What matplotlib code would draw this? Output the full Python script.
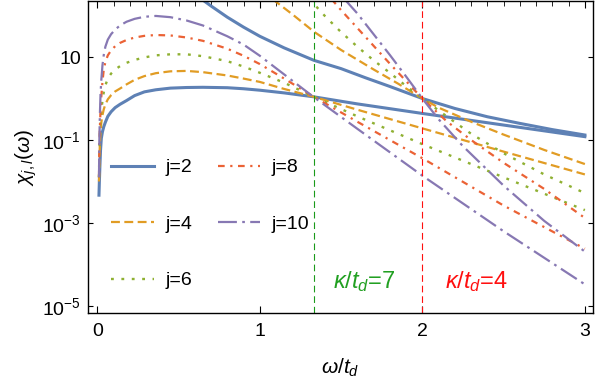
import numpy as np
import matplotlib
matplotlib.use('Agg')
import matplotlib.pyplot as plt
import matplotlib.ticker as plticker

plt.rcParams['font.family'] = 'Liberation Sans'
plt.rcParams['mathtext.fontset'] = 'custom'
plt.rcParams['mathtext.rm'] = 'Liberation Sans'
plt.rcParams['mathtext.it'] = 'Liberation Sans:italic'

c_blue   = '#5E81B5'
c_orange = '#E19C24'
c_green  = '#8FB032'
c_red    = '#EB6235'
c_purple = '#8778B3'

# --- data (log10 of chi) ---
# rising family, all crossing near omega = 4/3
omega_a = [0.0105, 0.013, 0.016, 0.02, 0.025, 0.032, 0.04, 0.05, 0.065, 0.085, 0.11, 0.14,
           0.18, 0.23, 0.29, 0.36, 0.45, 0.55, 0.65, 0.8, 0.9, 1.0, 1.15, 1.333, 1.6, 2.0,
           2.5, 3.0]
lg_a2  = [-2.33, -2.0, -1.65, -1.25, -0.96, -0.8, -0.68, -0.57, -0.43, -0.32, -0.22, -0.14,
          -0.05, 0.07, 0.16, 0.21, 0.25, 0.265, 0.27, 0.26, 0.235, 0.2, 0.135, 0.04, -0.13, -0.36,
          -0.64, -0.92]
lg_a4  = [-2.0, -1.5, -1.1, -0.8, -0.58, -0.4, -0.26, -0.14, -0.02, 0.08, 0.17, 0.24,
          0.34, 0.45, 0.54, 0.61, 0.655, 0.665, 0.635, 0.555, 0.48, 0.4, 0.23, 0.04, -0.27, -0.72,
          -1.28, -1.83]
lg_a6  = [-1.9, -1.3, -0.9, -0.55, -0.3, -0.05, 0.15, 0.32, 0.48, 0.6, 0.7, 0.78,
          0.86, 0.93, 0.99, 1.04, 1.065, 1.065, 1.02, 0.9, 0.77, 0.62, 0.38, 0.04, -0.43, -1.1,
          -1.9, -2.69]
lg_a8  = [-1.9, -1.2, -0.7, -0.3, 0.05, 0.4, 0.7, 0.88, 1.04, 1.16, 1.26, 1.34,
          1.41, 1.47, 1.51, 1.53, 1.52, 1.47, 1.39, 1.2, 1.03, 0.83, 0.48, 0.04, -0.56, -1.44,
          -2.58, -3.62]
lg_a10 = [-1.9, -1.0, -0.4, 0.1, 0.45, 0.8, 1.05, 1.25, 1.42, 1.55, 1.66, 1.76,
          1.85, 1.92, 1.97, 1.99, 1.96, 1.88, 1.76, 1.5, 1.3, 1.03, 0.58, 0.03, -0.73, -1.86,
          -3.2, -4.48]

# falling family, all crossing near omega = 2
omega_b2  = [0.64, 0.7, 0.8, 0.9, 1.0, 1.15, 1.333, 1.5, 1.65, 1.8, 2.0, 2.2, 2.4, 2.6, 2.8, 3.0]
lg_b2     = [2.4, 2.23, 1.96, 1.72, 1.5, 1.22, 0.92, 0.72, 0.5, 0.29, 0.0, -0.24, -0.44, -0.6, -0.75, -0.88]
omega_b4  = [1.08, 1.1, 1.2, 1.333, 1.5, 1.7, 1.85, 2.0, 2.1, 2.3, 2.5, 2.75, 3.0]
lg_b4     = [2.4, 2.33, 2.03, 1.61, 1.17, 0.7, 0.36, 0.0, -0.22, -0.56, -0.87, -1.24, -1.58]
omega_b6  = [1.3, 1.4, 1.5, 1.6, 1.7, 1.8, 1.9, 2.0, 2.15, 2.3, 2.5, 2.75, 3.0]
lg_b6     = [2.42, 1.99, 1.6, 1.25, 0.92, 0.62, 0.3, 0.0, -0.43, -0.85, -1.32, -1.83, -2.28]
omega_b8  = [1.44, 1.5, 1.6, 1.7, 1.8, 1.9, 2.0, 2.15, 2.3, 2.5, 2.75, 3.0]
lg_b8     = [2.4, 2.13, 1.7, 1.27, 0.84, 0.42, 0.0, -0.55, -1.0, -1.55, -2.18, -2.88]
omega_b10 = [1.52, 1.6, 1.7, 1.8, 1.9, 2.0, 2.1, 2.25, 2.5, 2.75, 3.0]
lg_b10    = [2.4, 2.05, 1.55, 1.05, 0.53, 0.0, -0.5, -1.15, -2.1, -2.95, -3.69]

j_values = [2, 4, 6, 8, 10]
lg_a = [lg_a2, lg_a4, lg_a6, lg_a8, lg_a10]
omega_b = [omega_b2, omega_b4, omega_b6, omega_b8, omega_b10]
lg_b = [lg_b2, lg_b4, lg_b6, lg_b8, lg_b10]

omega_k7 = 4/3   # kappa/t_d = 7
omega_k4 = 2.0   # kappa/t_d = 4

colors = [c_blue, c_orange, c_green, c_red, c_purple]
styles = ['-', (0, (4, 2)), (0, (1.2, 3.2)), (0, (3, 2.5, 1, 2.5)), (0, (8.5, 2.4, 1.2, 2.4))]
widths = [2.2, 1.6, 1.7, 1.6, 1.6]

fig = plt.figure(figsize=(6, 3.8), dpi=100)
ax = fig.add_axes([88/600, 1 - 313/380, 505/600, 312/380])

for j, la, ob, lb, c, ls, lw in zip(j_values, lg_a, omega_b, lg_b, colors, styles, widths):
    ax.plot(omega_a, np.power(10.0, la), color=c, ls=ls, lw=lw, label=f'j={j}')
    ax.plot(ob, np.power(10.0, lb), color=c, ls=ls, lw=lw)

ax.axvline(omega_k7, color='#1a9a1a', lw=0.8, ls=(0, (6, 3.5)))
ax.axvline(omega_k4, color='#ff1010', lw=0.8, ls=(0, (6, 3.5)))
ax.text(1.64, 10**-4.4, r'$\kappa/t_d$=7', color='#22a022', fontsize=17, ha='center', va='center')
ax.text(2.335, 10**-4.4, r'$\kappa/t_d$=4', color='#ff1010', fontsize=17, ha='center', va='center')

ax.set_yscale('log')
ax.set_xlim(-0.057, 3.05)
ax.set_ylim(10**-5.17, 10**2.35)
ax.set_yticks([10, 1e-1, 1e-3, 1e-5], ['10', r'$10^{-1}$', r'$10^{-3}$', r'$10^{-5}$'])
ax.yaxis.set_minor_locator(plticker.NullLocator())
ax.set_xticks([0, 1, 2, 3])
ax.xaxis.set_minor_locator(plticker.MultipleLocator(0.1))
ax.tick_params(axis='both', which='major', direction='in', labelsize=14)
ax.tick_params(axis='x', which='major', length=5, top=True, pad=7)
ax.tick_params(axis='x', which='minor', direction='in', length=3.5, bottom=False, top=True)
ax.tick_params(axis='y', which='major', length=3.3, right=True, pad=5)
for s in ax.spines.values():
    s.set_linewidth(1.0)

ax.set_xlabel(r'$\omega/t_d$', fontsize=15, labelpad=12)
ax.set_ylabel(r'$\chi_{j,l}(\omega)$', fontsize=15, labelpad=2)

ax.legend(loc='upper left', bbox_to_anchor=(0.0455, 0.494), ncols=2, frameon=False,
          fontsize=14, handlelength=2.2, handletextpad=0.6, columnspacing=1.3,
          labelspacing=2.0, borderpad=0, borderaxespad=0)

fig.savefig('out.png', dpi=100)
